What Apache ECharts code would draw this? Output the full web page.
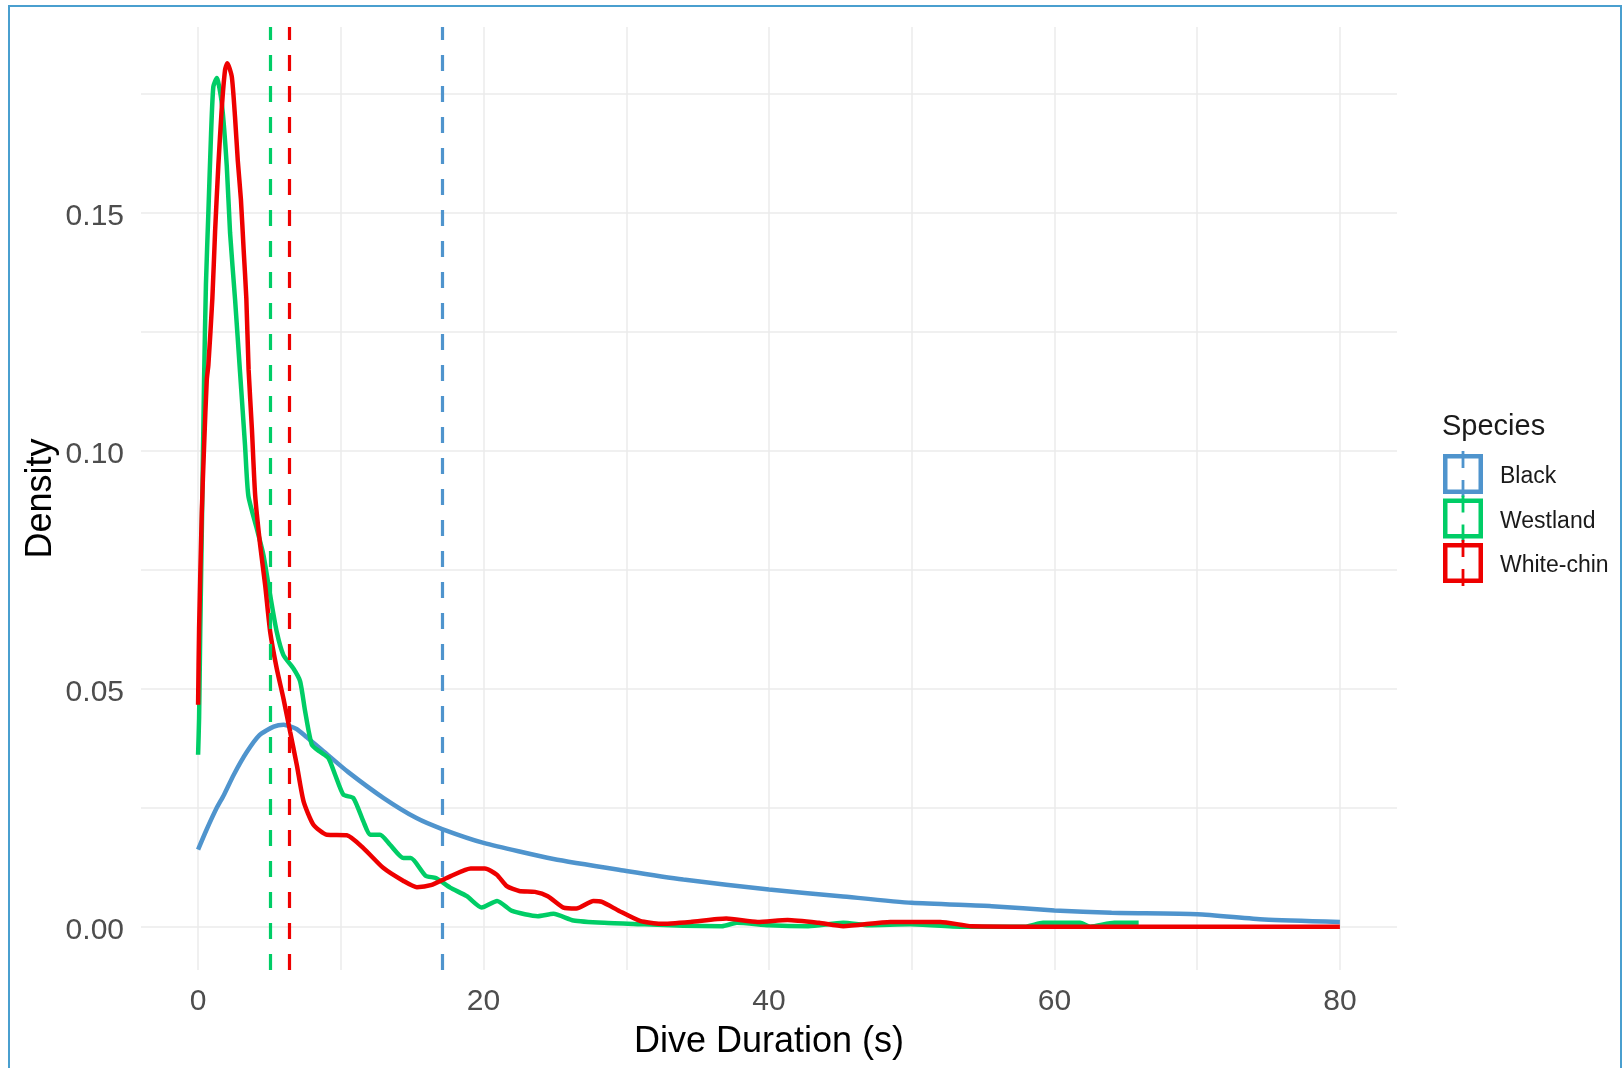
<!DOCTYPE html>
<html>
<head>
<meta charset="utf-8">
<title>Dive Duration density</title>
<script src="https://cdn.jsdelivr.net/npm/echarts@6/dist/echarts.min.js"></script>
<style>
  html, body { margin: 0; padding: 0; background: #fff; overflow: hidden; }
  #main { position: absolute; left: 0; top: 0; width: 1624px; height: 1068px; }
  /* screenshot frame */
  #frame { position: absolute; left: 8px; top: 5px; width: 1614px; height: 1090px;
           border: 2px solid #4a9fcf; box-sizing: border-box; pointer-events: none; }
</style>
</head>
<body>
<div id="main"></div>
<div id="frame"></div>
<script>
// species, colours and mean dive duration (dashed lines)
const speciesNames = ['Black', 'Westland', 'White-chin'];
const speciesColors = ['#4F94CD', '#00CD66', '#EE0000'];
const meanDuration = [17.1, 5.05, 6.4];

// axis ticks / grid
const xTickLabels = [0, 20, 40, 60, 80];
const xGridValues = [0, 10, 20, 30, 40, 50, 60, 70, 80];
const yTickLabels = [0, 0.05, 0.1, 0.15];
const yGridValues = [0, 0.025, 0.05, 0.075, 0.1, 0.125, 0.15, 0.175];

// density curves [duration, density]
const densityBlack = [
  [0,0.0163],[0.6,0.0205],[1.3,0.0250],[1.8,0.0277],[2.5,0.0320],[3.4,0.0367],[4.3,0.0403],[5.3,0.0421],
  [6.0,0.0425],[6.9,0.0416],[7.6,0.0399],[8.8,0.0369],[10.5,0.0326],[13,0.0271],[15.3,0.0229],[17.1,0.0206],
  [20,0.0177],[24.9,0.0143],[30,0.0118],[34,0.0100],[40,0.0079],[45,0.0065],[50,0.0051],
  [55.6,0.0044],[60,0.0035],[64,0.0030],[70,0.0027],[74.7,0.0016],[80,0.0011]
];
const densityWestland = [
  [0,0.0362],[0.07,0.0439],[0.15,0.062],[0.26,0.083],[0.42,0.115],[0.55,0.135],[0.72,0.150],
  [0.91,0.1667],[1.07,0.1765],[1.31,0.1783],[1.66,0.173],[2.01,0.1598],[2.24,0.1458],[2.59,0.1318],
  [2.94,0.1165],[3.29,0.1011],[3.52,0.0906],[4.11,0.0837],[4.58,0.0781],[5.05,0.0697],[5.51,0.062],
  [5.98,0.0571],[6.68,0.0543],[7.15,0.0516],[7.5,0.0453],[7.97,0.0383],[8.55,0.0368],[9.13,0.0355],
  [9.6,0.032],[10.18,0.0278],[10.88,0.0271],[11.58,0.0222],[12.05,0.0194],[12.75,0.0194],[13.45,0.0173],
  [14.39,0.0145],[14.9,0.0145],[15.94,0.0108],[16.66,0.0103],[17.66,0.0083],[18.83,0.0065],[19.87,0.0041],
  [20.95,0.0055],[22.0,0.0034],[23.8,0.0023],[24.9,0.0028],[26.3,0.0014],[28.45,0.0009],[31.3,0.0006],
  [34,0.0003],[36.7,0.0002],[37.75,0.0009],[40,0.0004],[42.75,0.0002],[45.2,0.0009],[47,0.0004],
  [49.9,0.0006],[53.5,0.0001],[58,0.0001],[59.2,0.0009],[61.8,0.0009],[62.5,0.0001],[64.2,0.0009],[65.9,0.0009]
];
const densityWhiteChin = [
  [0,0.0467],[0.07,0.0627],[0.26,0.0872],[0.42,0.101],[0.61,0.115],[0.72,0.118],[1.0,0.132],[1.19,0.146],
  [1.42,0.160],[1.66,0.172],[1.89,0.180],[2.05,0.1814],[2.36,0.1786],[2.59,0.170],[2.78,0.161],[3.0,0.1528],
  [3.19,0.1423],[3.38,0.132],[3.54,0.117],[3.77,0.1046],[4.0,0.0906],[4.35,0.0802],[4.7,0.0718],[5.05,0.062],
  [5.51,0.0543],[5.98,0.048],[6.45,0.041],[6.92,0.034],[7.39,0.0264],[8.08,0.0215],[9.02,0.0194],[10.42,0.0193],
  [11.58,0.0166],[12.99,0.0124],[14.39,0.0097],[15.33,0.0084],[16.3,0.0088],[17.7,0.0107],[19.1,0.0123],
  [20.1,0.0123],[20.93,0.011],[21.63,0.0086],[22.5,0.0076],[23.6,0.0074],[24.5,0.0065],[25.6,0.0041],
  [26.5,0.0039],[27.7,0.0055],[28.3,0.0053],[29.5,0.0034],[30.96,0.0013],[32.4,0.0007],[34.5,0.0011],
  [37.0,0.0018],[39.2,0.0011],[41.3,0.0015],[43.5,0.0009],[45.2,0.0002],[48.5,0.0011],[52,0.0011],
  [54.2,0.0002],[60,0.0001],[70,0.0001],[80,0.0001]
];
const curves = [densityBlack, densityWestland, densityWhiteChin];

// legend key: open square with a broken vertical line sticking out top and bottom
const keyIcon = 'path://M0,3H40V43H0Z M4.5,7.5V38.5H35.5V7.5Z M18.6,0H21.4V17H18.6Z M18.6,29H21.4V46H18.6Z';

let myChart = echarts.init(document.getElementById('main'));
let option = {
  animation: false,
  textStyle: { fontFamily: 'Liberation Sans, Arial, sans-serif' },
  title: {
    text: 'Species',
    left: 1442, top: 412, padding: 0,
    textStyle: { fontSize: 29, fontWeight: 'normal', color: '#1a1a1a' }
  },
  legend: {
    orient: 'vertical',
    left: 1443, top: 451, padding: 0,
    itemWidth: 40, itemHeight: 46, itemGap: -1.5,
    icon: keyIcon,
    data: speciesNames,
    itemStyle: { borderWidth: 0 },
    formatter: function (name) { return '{t|' + name + '}'; },
    textStyle: {
      fontSize: 23, color: '#1a1a1a',
      rich: { t: { fontSize: 23, color: '#1a1a1a', padding: [6, 0, 0, 12] } }
    }
  },
  grid: { left: 141, right: 227, top: 27, bottom: 98 },
  xAxis: {
    type: 'value',
    min: -4, max: 84,
    name: 'Dive Duration (s)',
    nameLocation: 'middle',
    nameGap: 54,
    nameTextStyle: { fontSize: 36, color: '#000' },
    axisLine: { show: false },
    axisTick: { show: false, customValues: xGridValues },
    axisLabel: { customValues: xTickLabels, color: '#4d4d4d', fontSize: 30, margin: 17 },
    splitLine: { show: true, lineStyle: { color: '#ebebeb', width: 1.5 } }
  },
  yAxis: {
    type: 'value',
    min: -0.009, max: 0.189,
    name: 'Density',
    nameLocation: 'middle',
    nameGap: 82,
    nameMoveOverlap: false,
    nameTextStyle: { fontSize: 36, color: '#000' },
    axisLine: { show: false },
    axisTick: { show: false, customValues: yGridValues },
    axisLabel: {
      customValues: yTickLabels, margin: 17,
      formatter: function (v) { return '{v|' + v.toFixed(2) + '}'; },
      rich: { v: { color: '#4d4d4d', fontSize: 30, padding: [7, 0, 0, 0] } }
    },
    splitLine: { show: true, lineStyle: { color: '#ebebeb', width: 1.5 } }
  },
  series: speciesNames.map(function (name, i) {
    return {
      name: name,
      type: 'line',
      data: curves[i],
      showSymbol: false,
      smooth: 0.2,
      lineStyle: { color: speciesColors[i], width: 4.5 },
      itemStyle: { color: speciesColors[i] },
      markLine: {
        silent: true,
        symbol: 'none',
        label: { show: false },
        lineStyle: { color: speciesColors[i], type: [16, 15], width: 3.2 },
        data: [{ xAxis: meanDuration[i] }]
      }
    };
  })
};
myChart.setOption(option);
</script>
</body>
</html>
